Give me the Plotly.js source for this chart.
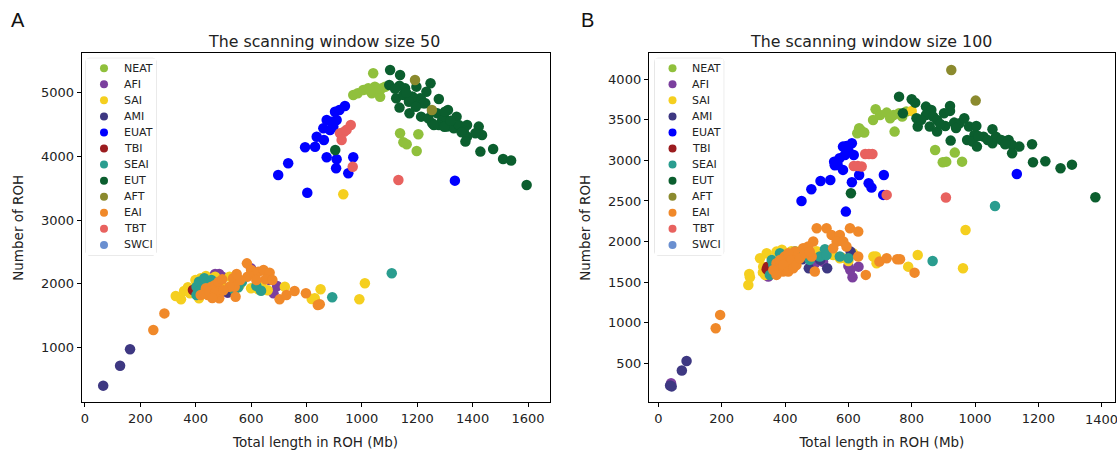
<!DOCTYPE html>
<html><head><meta charset="utf-8">
<script src="https://cdn.plot.ly/plotly-3.0.1.min.js"></script>
<style>html,body{margin:0;padding:0;background:#fff}#chart{width:1117px;height:452px}</style>
</head><body><div id="chart"></div>
<script>
const groups = ["NEAT","AFI","SAI","AMI","EUAT","TBI","SEAI","EUT","AFT","EAI","TBT","SWCI"];
const colors = ["#90c03c","#7b3f9e","#f5cf1f","#3e3882","#0000ff","#9b1c1f","#2a9d8f","#0b5e2e","#8b8a2e","#f0892a","#e8625f","#6a8fd0"];

// ---- Panel A: scanning window size 50 ----
const A_NEAT_x = [1041,969,985,1005,1023,1036,1047,1059,1066,1072,1084,1055,1030,1138,1204,1150,1162,1198];
const A_NEAT_y = [5304,4964,4990,5042,5069,4990,5094,5016,4937,5069,5094,5060,5030,4363,4347,4222,4191,4085];
const A_AFI_x = [470,485,496,600,667,694,681,515,480];
const A_AFI_y = [2156,2156,2114,2244,2061,1967,1852,1863,2140];
const A_SAI_x = [328,347,358,372,379,399,418,437,470,522,412,444,496,600,626,639,722,830,851,819,991,1011,933,560,660];
const A_SAI_y = [1810,1758,1889,1947,1852,2061,2088,2124,2114,2114,1774,1852,1957,1931,1915,1957,1957,1774,1916,1764,1759,2010,3406,1990,1900];
const A_AMI_x = [66,127,163,517,457];
const A_AMI_y = [404,717,974,1868,1967];
const A_EUAT_x = [698,734,803,795,831,837,863,861,873,891,909,903,919,939,873,909,907,951,969,1336,897,885];
const A_EUAT_y = [3709,3892,3431,4143,4153,4310,4258,4441,4572,4545,4572,4702,4728,4791,3987,3955,3814,3736,3987,3620,4467,4415];
const A_TBI_x = [390];
const A_TBI_y = [1905];
const A_SEAI_x = [1108,893,403,403,412,431,457,444,554,567,619,636,418,410,540];
const A_SEAI_y = [2167,1790,1826,1957,2035,2088,2061,1957,1947,2035,1967,1894,1905,1880,1900];
const A_EUT_x = [1102,1138,1099,1136,1156,1197,1248,1233,1124,1150,1181,1211,1136,1172,1214,1193,1229,1278,1254,1272,1296,1290,1254,1278,1308,1342,1332,1350,1380,1368,1422,1434,1380,1374,1410,1428,1474,1510,1539,1595,904,1183,1170,1215,1221,1195,1311,1240,1260,1298,1160,1120,1300,1320,1360];
const A_EUT_y = [5356,5278,5121,5110,5069,5095,5147,5016,4912,4964,4938,4912,4766,4677,4624,4860,4834,4901,4713,4677,4624,4572,4520,4494,4468,4624,4441,4494,4494,4400,4468,4337,4311,4233,4363,4076,4118,3961,3935,3552,4101,4937,4859,4885,4833,4780,4728,4598,4493,4467,5000,5060,4700,4560,4380];
const A_AFT_x = [1192,1253];
const A_AFT_y = [5199,4728];
const A_EAI_x = [247,287,431,444,463,476,457,470,483,496,535,541,522,585,600,587,613,626,645,667,652,677,703,728,757,798,841,848,544,561,619,548,437,485,418,450,470,500,460];
const A_EAI_y = [1277,1538,1852,1826,1826,1905,1957,1983,2035,2072,2088,1957,1957,2323,2218,2114,2140,2192,2218,2176,2072,2061,1758,1826,1889,1853,1670,1680,1800,2061,2061,2156,1931,1774,1826,1880,1860,1900,1780];
const A_TBT_x = [960,936,921,927,967,1132,945];
const A_TBT_y = [4493,4388,4363,4258,3839,3631,4420];
const A_SWCI_x = [];
const A_SWCI_y = [];

// ---- Panel B: scanning window size 100 ----
const B_NEAT_x = [686,678,634,640,628,650,721,743,760,732,783,746,874,936,898,909,959,700,770];
const B_NEAT_y = [3630,3499,3396,3370,3335,3343,3589,3560,3581,3520,3602,3355,3129,3096,2977,2985,2985,3560,3540];
const B_AFI_x = [40,613,632,606,600,347,495,520];
const B_AFI_y = [254,1560,1691,1650,1700,1568,1732,1750];
const B_SAI_x = [287,284,289,321,331,337,342,373,436,468,552,573,615,679,689,800,970,962,819,789,687,330,390,420,500,540,580,600];
const B_SAI_y = [1601,1465,1560,1794,1691,1589,1856,1876,1876,1856,1835,1794,1856,1815,1732,3610,2143,1671,1835,1691,1815,1620,1900,1880,1880,1870,1800,1760];
const B_AMI_x = [37,42,74,89,475,455,511,533,607];
const B_AMI_y = [225,215,410,529,1671,1782,1774,1671,1876];
const B_EUAT_x = [452,483,512,543,555,557,572,589,583,594,611,600,583,617,634,611,664,673,712,710,592,1132,566];
const B_EUAT_y = [2500,2644,2747,2759,2985,2940,3026,3067,3170,3178,3211,3120,2883,3067,2821,2731,2718,2665,2821,2575,2369,2833,2944];
const B_TBI_x = [342,350,345];
const B_TBI_y = [1658,1650,1690];
const B_SEAI_x = [358,363,352,384,431,468,478,510,526,531,573,600,1063,866];
const B_SEAI_y = [1774,1712,1589,1856,1876,1856,1774,1815,1905,1835,1815,1794,2439,1761];
const B_EUT_x = [760,800,811,772,815,819,845,862,845,868,880,857,880,902,921,921,906,934,951,966,981,1004,998,975,992,1006,1027,923,1055,1066,1055,1083,1106,1117,1117,1140,1180,1183,1222,1270,1306,1380,608,830,890,940,1010,1040,1095];
const B_EUT_y = [3786,3754,3712,3581,3519,3417,3663,3622,3560,3540,3499,3417,3355,3581,3671,3610,3425,3466,3458,3519,3417,3425,3314,3252,3232,3170,3293,3244,3384,3293,3211,3252,3252,3191,3088,3170,3199,2977,2989,2903,2948,2546,2595,3500,3450,3400,3300,3250,3200];
const B_AFT_x = [925,1002];
const B_AFT_y = [4115,3737];
const B_EAI_x = [181,195,500,531,547,573,605,631,563,584,594,552,489,457,431,405,389,373,384,394,405,415,363,373,484,494,631,655,698,721,754,399,410,420,384,394,410,426,436,447,463,473,478,763,809];
const B_EAI_y = [931,1096,2164,2164,2082,2082,2164,2123,2000,2000,1938,1917,2000,1917,1876,1794,1774,1732,1691,1630,1671,1732,1650,1589,1815,1630,1815,1589,1753,1794,1782,1815,1856,1774,1774,1712,1630,1671,1712,1794,1856,1938,1876,1782,1617];
const B_TBT_x = [653,676,665,617,642,630,721,908];
const B_TBT_y = [3080,3080,3080,2932,2924,2930,2575,2542];
const B_SWCI_x = [];
const B_SWCI_y = [];

const xTicksA = [0,200,400,600,800,1000,1200,1400,1600];
const yTicksA = [1000,2000,3000,4000,5000];
const xTicksB = [0,200,400,600,800,1000,1200,1400];
const yTicksB = [500,1000,1500,2000,2500,3000,3500,4000];
const titleA = "The scanning window size 50";
const titleB = "The scanning window size 100";
const xLabel = "Total length in ROH (Mb)";
const yLabel = "Number of ROH";

const dataA = {NEAT:[A_NEAT_x,A_NEAT_y],AFI:[A_AFI_x,A_AFI_y],SAI:[A_SAI_x,A_SAI_y],AMI:[A_AMI_x,A_AMI_y],EUAT:[A_EUAT_x,A_EUAT_y],TBI:[A_TBI_x,A_TBI_y],SEAI:[A_SEAI_x,A_SEAI_y],EUT:[A_EUT_x,A_EUT_y],AFT:[A_AFT_x,A_AFT_y],EAI:[A_EAI_x,A_EAI_y],TBT:[A_TBT_x,A_TBT_y],SWCI:[A_SWCI_x,A_SWCI_y]};
const dataB = {NEAT:[B_NEAT_x,B_NEAT_y],AFI:[B_AFI_x,B_AFI_y],SAI:[B_SAI_x,B_SAI_y],AMI:[B_AMI_x,B_AMI_y],EUAT:[B_EUAT_x,B_EUAT_y],TBI:[B_TBI_x,B_TBI_y],SEAI:[B_SEAI_x,B_SEAI_y],EUT:[B_EUT_x,B_EUT_y],AFT:[B_AFT_x,B_AFT_y],EAI:[B_EAI_x,B_EAI_y],TBT:[B_TBT_x,B_TBT_y],SWCI:[B_SWCI_x,B_SWCI_y]};

const W = 1117, H = 452;
const FONT = "DejaVu Sans, Verdana, sans-serif";
const traces = [];
groups.forEach((g,i)=>{
  traces.push({type:"scatter",mode:"markers",name:g,x:dataA[g][0],y:dataA[g][1],xaxis:"x",yaxis:"y",
    marker:{color:colors[i],size:10.5,line:{width:0}},showlegend:false,hoverinfo:"x+y+name"});
});
groups.forEach((g,i)=>{
  traces.push({type:"scatter",mode:"markers",name:g,x:dataB[g][0],y:dataB[g][1],xaxis:"x2",yaxis:"y2",
    marker:{color:colors[i],size:10.5,line:{width:0}},showlegend:false,hoverinfo:"x+y+name"});
});
// legends (built from the group list)
const idx = groups.map((g,i)=>i);
traces.push({type:"scatter",mode:"markers",x:groups.map(()=>0.257),y:idx,xaxis:"x3",yaxis:"y3",
  marker:{color:colors,size:8},showlegend:false,hoverinfo:"skip"});
traces.push({type:"scatter",mode:"markers",x:groups.map(()=>0.257),y:idx,xaxis:"x4",yaxis:"y4",
  marker:{color:colors,size:8},showlegend:false,hoverinfo:"skip"});

const yDom = [1-402.3/H, 1-53.3/H];
const legYDom = [1-255/H, 1-58.3/H];
function ax(domain, range, tickvals, anchor, title, standoff, hideLast){
  return {domain, range, anchor, tickvals,
    ticktext:tickvals.map((v,i)=> (hideLast && i===tickvals.length-1) ? "" : String(v)),
    showline:true, mirror:true,
    linecolor:"#000", linewidth:1, ticks:"outside", ticklen:4, tickwidth:1, tickcolor:"#000",
    showgrid:false, zeroline:false, tickfont:{size:13,color:"#222",family:FONT}, ticklabeloverflow:"allow",
    title:{text:title, font:{size:13.5,color:"#222",family:FONT}, standoff}, automargin:false};
}
const annotations = [];
const legRows = (xr,yr)=>groups.forEach((g,i)=>annotations.push({xref:xr,yref:yr,x:0.51,y:i,text:g,showarrow:false,
  xanchor:"left",yanchor:"middle",font:{size:11,color:"#222",family:FONT}}));
legRows("x3","y3"); legRows("x4","y4");
// last tick label of panel B sits on the page edge (partly cut, as in the source)
const lastB = xTicksB[xTicksB.length-1];
annotations.push({xref:"x2",yref:"paper",x:lastB,y:1-419/H,text:String(lastB),showarrow:false,xanchor:"center",yanchor:"middle",
  font:{size:13,color:"#222",family:FONT}});
annotations.push({xref:"paper",yref:"paper",x:324/W,y:1-41.7/H,text:titleA,showarrow:false,xanchor:"center",yanchor:"middle",font:{size:15.8,color:"#222",family:FONT}});
annotations.push({xref:"paper",yref:"paper",x:871/W,y:1-41.7/H,text:titleB,showarrow:false,xanchor:"center",yanchor:"middle",font:{size:15.8,color:"#222",family:FONT}});
annotations.push({xref:"paper",yref:"paper",x:18/W,y:1-20/H,text:"A",showarrow:false,xanchor:"center",yanchor:"middle",font:{size:20,color:"#111",family:"Liberation Sans, Arial, sans-serif"}});
annotations.push({xref:"paper",yref:"paper",x:587/W,y:1-20/H,text:"B",showarrow:false,xanchor:"center",yanchor:"middle",font:{size:20,color:"#111",family:"Liberation Sans, Arial, sans-serif"}});

function roundBox(x0,x1,y0,y1,r){
  const rx=r/W, ry=r/H;
  return `M ${x0+rx},${y1} L ${x1-rx},${y1} Q ${x1},${y1} ${x1},${y1-ry} L ${x1},${y0+ry} Q ${x1},${y0} ${x1-rx},${y0} `+
         `L ${x0+rx},${y0} Q ${x0},${y0} ${x0},${y0+ry} L ${x0},${y1-ry} Q ${x0},${y1} ${x0+rx},${y1} Z`;
}

const layout = {
  width:W, height:H, margin:{l:0,r:0,t:0,b:0}, paper_bgcolor:"#fff", plot_bgcolor:"#fff",
  font:{family:FONT,color:"#222"}, showlegend:false,
  xaxis: ax([81.7/W,549.5/W],[-11.6,1677.6],xTicksA,"y",xLabel,12,false),
  yaxis: ax(yDom,[143,5618],yTicksA,"x",yLabel,14,false),
  xaxis2: ax([648.8/W,1115/W],[-30.3,1442],xTicksB,"y2",xLabel,12,true),
  yaxis2: ax(yDom,[19,4320],yTicksB,"x2",yLabel,14,false),
  xaxis3:{domain:[86/W,156/W],range:[0,1],anchor:"y3",visible:false,fixedrange:true},
  yaxis3:{domain:legYDom,range:[11.63,-0.62],anchor:"x3",visible:false,fixedrange:true},
  xaxis4:{domain:[654.8/W,723.7/W],range:[0,1],anchor:"y4",visible:false,fixedrange:true},
  yaxis4:{domain:legYDom,range:[11.63,-0.62],anchor:"x4",visible:false,fixedrange:true},
  shapes:[
    {type:"path",xref:"paper",yref:"paper",path:roundBox(86/W,156/W,legYDom[0],legYDom[1],3),line:{color:"#d6d6d6",width:1},fillcolor:"#fff",layer:"below"},
    {type:"path",xref:"paper",yref:"paper",path:roundBox(654.8/W,723.7/W,legYDom[0],legYDom[1],3),line:{color:"#d6d6d6",width:1},fillcolor:"#fff",layer:"below"}
  ],
  annotations
};
Plotly.newPlot("chart", traces, layout, {displayModeBar:false, staticPlot:true});
</script></body></html>
